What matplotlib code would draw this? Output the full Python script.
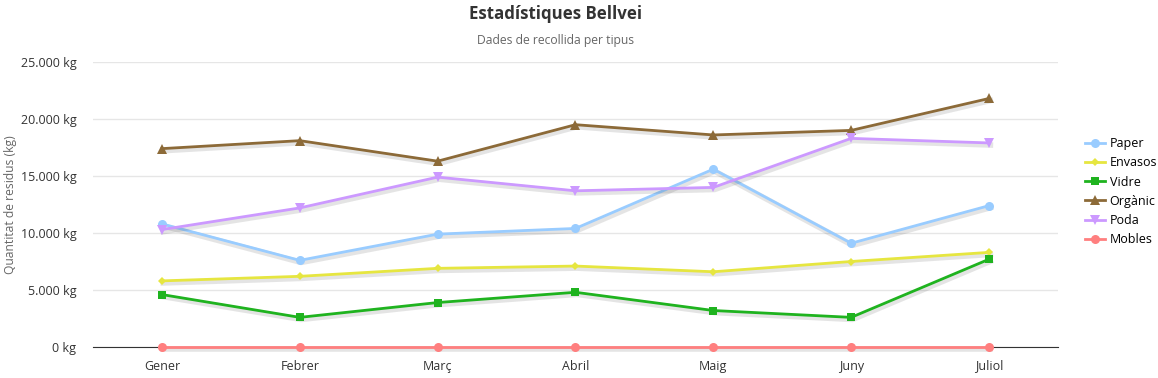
import matplotlib
matplotlib.use("Agg")
import matplotlib.pyplot as plt
import matplotlib.patheffects as pe
from matplotlib.ticker import FuncFormatter

plt.rcParams["font.family"] = ["Open Sans", "DejaVu Sans"]

months = ["Gener", "Febrer", "Març", "Abril", "Maig", "Juny", "Juliol"]
paper = [10800, 7600, 9900, 10400, 15600, 9100, 12400]
envasos = [5800, 6200, 6900, 7100, 6600, 7500, 8300]
vidre = [4600, 2600, 3900, 4800, 3200, 2600, 7700]
organic = [17400, 18100, 16300, 19500, 18600, 19000, 21800]
poda = [10300, 12200, 14900, 13700, 14000, 18300, 17900]
mobles = [0, 0, 0, 0, 0, 0, 0]

series = [
    ("Paper", paper, "#99ccff", "o", 6.5),
    ("Envasos", envasos, "#e6e640", "D", 4.5),
    ("Vidre", vidre, "#1fb31f", "s", 6),
    ("Orgànic", organic, "#8c6a38", "^", 7),
    ("Poda", poda, "#cc99ff", "v", 7),
    ("Mobles", mobles, "#ff7f7f", "o", 6.5),
]

fig = plt.figure(figsize=(11.58, 3.78), dpi=100)
ax = fig.add_axes([0.0803, 0.082, 0.8333, 0.754])

x = list(range(len(months)))
shadow = [pe.SimpleLineShadow(offset=(1, -1.5), shadow_color="0.2", alpha=0.13, linewidth=4),
          pe.Normal()]
for name, vals, col, mk, ms in series:
    ax.plot(x, vals, color=col, lw=2, path_effects=shadow, clip_on=False, zorder=3)
    ax.plot(x, vals, color=col, lw=0, marker=mk, markersize=ms,
            markeredgewidth=0, clip_on=False, zorder=4)
    ax.plot([], [], color=col, lw=2, marker=mk, markersize=ms,
            markeredgewidth=0, label=name)

ax.set_xlim(-0.5, 6.5)
ax.set_ylim(0, 25000)
ax.set_yticks(range(0, 25001, 5000))
ax.yaxis.set_major_formatter(FuncFormatter(
    lambda v, p: f"{int(v):,} kg".replace(",", ".")))
ax.set_xticks(x)
ax.set_xticklabels(months)
ax.grid(axis="y", color="#e6e6e6", lw=1)
ax.set_axisbelow(True)
for s in ["top", "right", "left"]:
    ax.spines[s].set_visible(False)
ax.spines["bottom"].set_color("#333333")
ax.tick_params(axis="both", length=0, labelsize=9, colors="#333333")
ax.tick_params(axis="y", pad=12)
ax.tick_params(axis="x", pad=9)
ax.set_ylabel("Quantitat de residus (kg)", color="#666666", fontsize=8.7)
ax.yaxis.set_label_coords(-0.079, 0.5)

fig.text(0.48, 0.962, "Estadístiques Bellvei", ha="center", va="center",
         fontsize=12.2, fontweight="bold", color="#333333")
fig.text(0.48, 0.893, "Dades de recollida per tipus", ha="center", va="center",
         fontsize=8.7, color="#666666")

ax.legend(loc="center left", bbox_to_anchor=(1.02, 0.545), frameon=False,
          fontsize=9, handlelength=1.6, handletextpad=0.4, labelspacing=0.5,
          borderaxespad=0.2)

fig.savefig("out.png", dpi=100)
